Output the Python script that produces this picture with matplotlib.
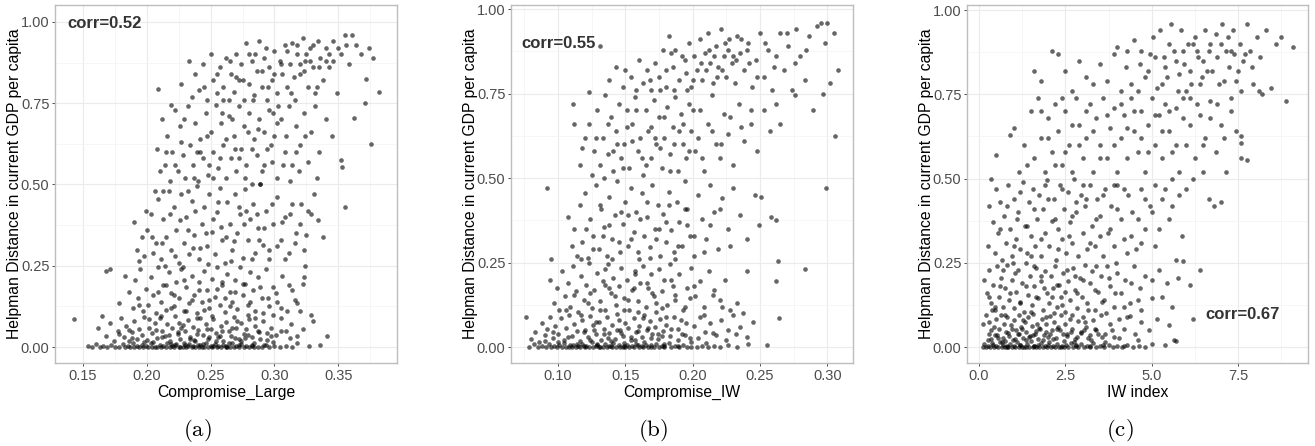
import numpy as np
import matplotlib.pyplot as plt
from matplotlib.ticker import MultipleLocator

# points: x in 1/1000, y in 1/1000
pts_a = [
    (154,3),(157,0),(160,8),(163,0),(166,2),(169,0),(172,5),(175,0),(178,1),(181,9),(183,0),(185,4),(187,0),(189,12),
    (190,0),(192,2),(194,0),(196,7),(197,0),(199,3),(201,0),(203,11),(204,0),(206,1),(208,0),(210,6),(211,0),(213,2),
    (215,0),(216,14),(218,0),(220,3),(221,0),(223,8),(225,0),(226,1),(228,0),(230,5),(231,0),(233,10),(235,0),(236,2),
    (238,0),(240,7),(241,0),(243,1),(245,0),(246,13),(248,0),(250,4),(251,0),(253,9),(255,0),(256,2),(258,0),(260,6),
    (262,0),(263,1),(265,0),(267,11),(268,0),(270,3),(272,0),(274,8),(276,0),(278,2),(280,0),(282,5),(284,0),(287,1),
    (290,0),(293,7),(296,0),(300,3),(304,0),(309,2),(314,0),(327,2),(336,6),
    (143,85),(162,60),(165,95),(168,35),(171,75),(174,20),(177,50),(180,90),(182,30),(184,65),(186,18),(188,45),(190,80),
    (192,25),(194,55),(196,38),(198,92),(200,22),(202,60),(204,42),(206,75),(208,28),(210,88),(212,50),(214,33),(216,70),
    (218,20),(220,58),(222,95),(224,40),(226,25),(228,68),(230,48),(232,82),(234,30),(236,62),(238,18),(240,52),(242,90),
    (244,36),(246,72),(248,24),(250,56),(252,85),(254,44),(256,30),(258,66),(260,20),(262,78),(264,48),(266,34),(268,92),
    (270,60),(272,26),(274,74),(276,40),(278,55),(280,85),(282,30),(285,64),(288,45),(291,80),(294,22),(297,58),(301,38),
    (305,90),(309,50),(313,70),(318,35),(322,55),(329,100),(330,80),(341,35),
    (168,235),(171,240),(178,135),(183,220),(186,170),(189,120),(191,205),(193,150),(195,240),(197,110),(199,180),
    (201,130),(203,215),(205,160),(207,105),(209,245),(211,140),(213,190),(215,115),(217,230),(219,165),(221,125),
    (223,200),(225,150),(227,240),(229,110),(231,185),(233,135),(235,220),(237,160),(239,105),(241,200),(243,140),
    (245,235),(247,175),(249,120),(251,210),(253,155),(255,245),(257,130),(259,190),(261,108),(263,225),(265,170),
    (267,140),(269,205),(271,118),(273,245),(275,160),(277,195),(279,128),(281,230),(283,175),(285,112),(287,215),
    (290,150),(293,240),(296,125),(299,185),(302,140),(306,220),(310,110),(314,175),(318,135),(322,195),(323,215),
    (190,385),(192,300),(194,265),(196,340),(198,280),(200,360),(203,410),(205,290),(207,320),(209,455),(211,270),
    (213,395),(215,340),(217,480),(219,300),(221,430),(223,360),(225,260),(227,470),(229,320),(231,400),(233,285),
    (235,450),(237,345),(239,495),(241,270),(243,380),(245,430),(247,310),(249,470),(251,355),(253,285),(255,415),
    (257,490),(259,330),(261,260),(263,445),(265,380),(267,300),(269,470),(271,350),(273,410),(275,275),(277,485),
    (279,330),(281,395),(283,440),(285,290),(287,365),(289,500),(291,315),(293,420),(296,270),(299,380),(302,460),
    (305,330),(308,400),(311,290),(314,440),(317,350),(320,380),(323,300),(326,420),(331,470),(334,390),(338,340),
    (355,430),
    (206,480),(208,610),(210,540),(212,700),(214,560),(216,650),(218,510),(220,600),(222,730),(224,540),(226,680),
    (228,590),(230,520),(232,740),(234,620),(236,560),(238,690),(240,510),(242,640),(244,580),(246,720),(248,530),
    (250,660),(252,600),(254,745),(256,550),(258,690),(260,620),(262,520),(264,710),(266,580),(268,650),(270,540),
    (272,740),(274,610),(276,680),(278,560),(280,720),(282,500),(284,640),(286,590),(288,700),(290,540),(292,660),
    (294,610),(296,730),(298,570),(300,650),(302,520),(305,700),(308,600),(311,740),(314,560),(317,680),(320,620),
    (323,720),(326,570),(329,660),(332,740),(335,600),(340,700),(345,650),(352,575),(353,555),(362,705),
    (209,795),(219,745),(227,810),(233,880),(235,770),(238,840),(241,790),(244,870),(247,760),(250,900),(252,820),
    (255,780),(257,860),(260,800),(262,890),(264,760),(266,840),(268,785),(270,900),(272,820),(274,870),(276,760),
    (278,935),(280,810),(282,880),(284,775),(286,850),(288,940),(290,800),(292,890),(294,760),(296,860),(298,820),
    (300,910),(302,780),(304,880),(306,840),(308,930),(310,800),(312,870),(314,935),(316,760),(318,900),(320,840),
    (322,950),(324,880),(326,800),(328,920),(330,860),(332,780),(334,940),(336,890),(338,820),(340,920),(343,860),
    (346,940),(349,780),(352,900),(355,960),(358,870),(361,960),(364,930),(368,900),(371,750),(372,825),(374,920),
    (377,890),(382,785),(376,625),
    # second pass over the denser parts of the cloud
    (205,15),(212,30),(219,8),(224,45),(229,12),(234,25),(239,40),(244,10),(249,32),(254,18),(259,48),(264,14),
    (269,28),(274,20),(279,38),(284,12),(289,26),(294,42),(299,16),(207,52),(217,38),(227,60),(237,22),(247,55),
    (257,35),(267,58),(277,28),(287,50),(297,35),(222,5),(232,3),(242,6),(252,4),(262,3),(272,6),(282,4),(292,5),
    (188,28),(198,15),(178,40),(186,52),(318,12),(312,28),(305,48),
    (211,95),(221,160),(231,110),(241,175),(251,95),(261,150),(271,80),(281,140),(291,105),(301,165),(215,190),
    (225,75),(235,145),(245,115),(255,180),(265,125),(275,195),(285,88),(295,150),(305,120),(209,170),(219,120),
    (229,205),(239,90),(249,145),(259,200),(269,170),(279,100),(289,185),(299,98),(202,85),(194,130),(311,190),
    (316,145),(320,110),
    (212,320),(222,280),(232,360),(242,305),(252,395),(262,340),(272,430),(282,270),(292,365),(302,310),(312,410),
    (218,410),(228,245),(238,420),(248,255),(258,370),(268,325),(278,420),(288,330),(298,440),(308,270),(226,390),
    (236,305),(246,350),(256,445),(266,265),(276,380),(286,410),(296,300),(306,385),(214,250),(204,340),(199,420),
    (316,320),(321,440),(324,250),(325,345),(329,410),
    (222,560),(232,480),(242,600),(252,520),(262,640),(272,580),(282,610),(292,560),(302,690),(312,510),(227,630),
    (237,520),(247,650),(257,580),(267,700),(277,520),(287,670),(297,620),(307,560),(317,600),(229,700),(239,600),
    (249,560),(259,720),(269,610),(279,660),(289,500),(299,720),(309,650),(319,540),(215,600),(213,480),(333,520),
    (324,650),
    (245,800),(255,840),(265,880),(275,820),(285,900),(295,800),(305,870),(315,830),(325,900),(335,860),(290,850),
    (300,840),(310,910),(320,870),(330,930),(340,880),(350,920),(283,760),(293,920),(303,740),(313,780),(323,850),
    (333,800),(343,900),(280,900),(270,830),(260,760),(318,930),(328,880),(346,880),(356,930),
]

pts_b = [
    (78,0),(82,8),(85,0),(88,3),(91,0),(93,10),(95,0),(97,2),(99,0),(101,6),(103,0),(104,12),(106,0),(108,1),(110,0),
    (111,7),(113,0),(115,3),(116,0),(118,9),(120,0),(121,2),(123,0),(125,14),(126,0),(128,4),(130,0),(131,1),(133,0),
    (135,8),(136,0),(138,2),(140,0),(141,11),(143,0),(145,5),(146,0),(148,1),(150,0),(151,7),(153,0),(155,3),(156,0),
    (158,10),(160,0),(162,2),(163,0),(165,6),(167,0),(169,1),(171,0),(173,9),(175,0),(177,3),(179,0),(182,12),(184,0),
    (187,2),(190,0),(193,6),(196,0),(199,1),(203,0),(207,4),(211,0),(216,2),(220,0),(226,5),(233,0),(241,9),(255,6),
    (76,90),(80,25),(83,45),(86,15),(88,70),(90,35),(92,55),(94,90),(96,28),(98,62),(100,40),(102,85),(104,22),(106,58),
    (108,95),(110,32),(112,68),(114,48),(116,18),(118,80),(120,52),(122,30),(124,92),(126,64),(128,38),(130,75),
    (132,20),(134,55),(136,88),(138,42),(140,66),(142,25),(144,98),(146,50),(148,34),(150,72),(152,58),(154,22),
    (156,86),(158,45),(160,62),(162,30),(164,94),(166,52),(168,76),(170,38),(172,60),(174,24),(176,84),(178,48),
    (180,66),(183,32),(186,90),(189,55),(192,40),(195,72),(198,28),(201,62),(205,88),(209,45),(213,70),(217,35),
    (221,80),(226,50),(230,95),(235,60),(240,30),(245,75),(264,85),
    (94,200),(95,260),(97,130),(99,175),(101,110),(103,225),(105,150),(107,190),(109,120),(111,240),(113,165),
    (115,105),(117,210),(119,140),(121,185),(123,250),(125,115),(127,170),(129,220),(131,135),(133,195),(135,110),
    (137,245),(139,160),(141,205),(143,125),(145,180),(147,235),(149,145),(151,200),(153,110),(155,170),(157,225),
    (159,135),(161,190),(163,240),(165,120),(167,175),(169,215),(171,150),(173,105),(175,230),(177,165),(179,200),
    (181,125),(183,245),(185,180),(187,140),(190,215),(193,110),(196,175),(199,235),(202,150),(205,195),(208,120),
    (212,225),(216,170),(220,140),(224,200),(228,110),(233,130),(237,100),(240,225),(262,195),(263,255),(283,230),
    (92,470),(107,385),(110,300),(112,350),(114,270),(116,420),(118,310),(120,455),(122,265),(124,380),(126,330),
    (128,480),(130,290),(132,410),(134,355),(136,270),(138,445),(140,320),(142,390),(144,490),(146,280),(148,365),
    (150,430),(152,300),(154,470),(156,340),(158,400),(160,260),(162,455),(164,330),(166,385),(168,295),(170,480),
    (172,350),(174,420),(176,270),(178,395),(180,310),(182,460),(184,345),(186,280),(188,430),(190,370),(192,300),
    (194,490),(196,410),(198,330),(201,270),(204,450),(207,380),(210,320),(213,480),(216,400),(219,290),(222,440),
    (226,350),(230,470),(235,390),(240,320),(246,450),(249,360),(251,445),(258,385),(262,375),(299,470),
    (111,720),(112,660),(116,540),(118,590),(120,620),(123,660),(125,510),(127,580),(129,700),(131,540),(133,620),
    (135,745),(137,570),(139,680),(141,520),(143,640),(145,720),(147,560),(149,600),(151,700),(153,530),(155,660),
    (157,740),(159,580),(161,620),(163,510),(165,700),(167,640),(169,560),(171,730),(173,600),(175,680),(177,530),
    (179,620),(181,710),(183,570),(185,650),(187,740),(189,520),(191,690),(193,600),(195,560),(197,720),(199,640),
    (202,580),(205,700),(208,520),(211,660),(214,745),(217,600),(220,560),(223,690),(226,630),(230,540),(234,720),
    (238,610),(243,660),(248,580),(253,700),(257,640),(262,720),(265,660),(276,745),(306,625),
    (123,755),(131,890),(138,790),(143,830),(148,770),(150,820),(154,800),(158,760),(160,850),(163,780),(166,820),
    (169,760),(172,840),(175,800),(178,880),(180,770),(182,920),(185,830),(187,880),(190,790),(192,860),(195,810),
    (197,900),(199,770),(201,860),(203,820),(205,910),(207,790),(209,870),(211,930),(213,840),(215,780),(217,890),
    (219,830),(221,940),(223,860),(225,800),(227,910),(229,840),(231,780),(233,920),(235,870),(238,820),(241,900),
    (244,770),(247,850),(250,930),(253,800),(256,880),(259,760),(262,860),(265,930),(268,820),(271,890),(274,760),
    (277,940),(280,860),(283,790),(286,920),(289,700),(292,950),(295,960),(298,900),(300,960),(302,780),(305,930),
    (308,820),(297,750),
    # second pass over the denser parts of the cloud
    (100,15),(107,30),(114,10),(119,45),(124,22),(129,8),(134,38),(139,18),(144,52),(149,12),(154,30),(159,48),
    (164,14),(169,26),(174,40),(179,10),(184,55),(189,20),(194,35),(199,15),(204,28),(210,12),(215,42),(109,5),
    (119,3),(129,6),(139,4),(149,3),(159,6),(169,5),(179,4),(189,3),(127,50),(137,28),(147,42),(157,20),(167,56),
    (177,32),(96,45),(90,18),(225,20),(232,38),
    (117,95),(124,160),(131,110),(138,175),(145,80),(152,140),(159,105),(166,190),(173,130),(180,88),(187,155),
    (194,120),(201,180),(208,95),(122,130),(128,75),(135,185),(142,150),(149,110),(156,175),(163,85),(170,160),
    (177,115),(184,198),(191,80),(198,145),(112,155),(106,110),(215,155),(222,120),
    (126,290),(133,330),(140,260),(147,400),(154,320),(161,380),(168,265),(175,350),(182,420),(189,300),(196,360),
    (131,420),(138,360),(145,310),(152,390),(159,280),(166,430),(173,320),(180,370),(187,260),(194,410),(201,330),
    (208,280),(121,350),(117,260),(213,360),(220,410),(228,300),(135,230),(157,215),
    (134,500),(141,580),(148,530),(155,610),(162,560),(169,650),(176,590),(183,520),(190,640),(197,580),(204,620),
    (137,660),(144,600),(151,650),(158,700),(165,540),(172,620),(179,680),(186,600),(193,660),(200,700),(207,560),
    (214,640),(221,600),(128,620),(228,680),(236,650),(243,700),
    (180,820),(186,760),(194,850),(200,790),(206,840),(212,880),(218,800),(224,900),(230,860),(236,910),(242,840),
    (248,800),(184,870),(196,760),(210,820),(216,860),(222,820),(226,880),(232,850),(240,880),(254,900),(260,830),
    (168,790),(176,760),(270,930),(276,840),(284,880),
]

# x in 1/100, y in 1/1000
pts_c = [
    (10,0),(15,8),(20,0),(26,4),(32,0),(38,12),(44,0),(50,2),(55,0),(60,16),(65,0),(70,6),(75,0),(80,1),(85,0),(90,10),
    (95,0),(100,3),(105,0),(110,14),(115,0),(120,5),(125,0),(130,1),(135,0),(140,9),(145,0),(150,18),(155,0),(160,3),
    (165,0),(170,7),(175,0),(180,12),(185,0),(190,2),(196,0),(202,15),(208,0),(214,4),(220,0),(226,10),(232,0),(238,1),
    (245,0),(252,6),(259,0),(266,13),(273,0),(280,3),(288,0),(296,8),(304,0),(312,2),(320,0),(330,11),(340,0),(350,4),
    (362,0),(375,7),(388,0),(400,2),(415,0),(430,5),(445,0),(462,3),(480,0),(540,5),(565,20),(570,18),
    (12,70),(20,95),(28,40),(30,75),(35,25),(42,60),(48,85),(52,35),(58,55),(63,95),(68,28),(72,70),(78,45),(82,90),
    (88,32),(92,65),(97,22),(102,80),(107,50),(112,38),(117,95),(122,60),(127,26),(132,75),(137,45),(142,88),(147,34),
    (152,62),(157,98),(162,40),(167,70),(172,24),(177,55),(182,85),(188,36),(194,68),(200,30),(206,92),(212,50),
    (218,75),(224,28),(230,60),(236,95),(242,40),(248,70),(255,32),(262,85),(270,55),(278,25),(286,78),(294,45),
    (302,90),(310,60),(320,35),(330,80),(340,50),(352,95),(365,40),(378,70),(392,30),(406,85),(420,55),(436,92),
    (452,40),(470,75),(492,50),(515,85),(550,65),(620,85),
    (15,200),(22,160),(28,230),(34,130),(40,185),(46,110),(52,240),(58,150),(64,205),(70,120),(76,175),(82,245),
    (88,140),(94,200),(100,115),(106,165),(112,230),(118,135),(124,190),(130,105),(136,250),(142,155),(148,210),
    (154,125),(160,180),(166,235),(172,145),(178,195),(184,110),(190,225),(196,160),(202,130),(208,210),(214,175),
    (220,240),(226,120),(232,185),(238,150),(244,220),(250,105),(257,195),(264,140),(271,235),(278,170),(285,115),
    (292,205),(299,150),(306,245),(313,130),(320,190),(328,225),(336,110),(344,165),(352,210),(361,140),(370,240),
    (380,180),(390,120),(400,220),(412,160),(424,200),(436,130),(450,240),(466,175),(482,210),(500,145),(520,230),
    (545,190),(575,205),(610,185),(640,230),(590,255),
    (25,300),(30,420),(35,500),(40,370),(45,280),(50,470),(55,340),(60,430),(66,260),(72,390),(78,310),(84,480),
    (90,350),(96,270),(102,440),(108,320),(114,400),(120,290),(126,490),(132,360),(138,280),(144,430),(150,330),
    (156,470),(162,300),(168,380),(174,450),(180,270),(186,410),(192,340),(198,495),(204,300),(210,375),(216,440),
    (222,260),(228,350),(234,480),(240,320),(246,410),(252,280),(258,460),(264,370),(270,310),(276,500),(282,400),
    (288,270),(294,450),(300,340),(307,420),(314,290),(321,480),(328,360),(335,300),(342,440),(350,390),(358,270),
    (366,470),(374,340),(382,420),(390,300),(400,480),(410,380),(420,320),(432,450),(444,400),(456,290),(468,470),
    (480,350),(494,420),(510,300),(530,440),(550,380),(570,260),(588,330),
    (50,570),(90,630),(100,650),(115,520),(130,600),(140,540),(150,700),(160,560),(170,740),(180,620),(190,520),
    (200,680),(210,580),(220,720),(230,640),(240,540),(250,700),(260,600),(270,520),(280,740),(290,660),(300,560),
    (310,620),(320,720),(330,520),(340,680),(350,600),(360,740),(370,560),(380,650),(390,710),(400,520),(410,620),
    (420,690),(430,560),(440,740),(450,640),(460,580),(470,700),(480,520),(490,660),(500,740),(510,600),(520,690),
    (530,560),(540,720),(550,640),(560,580),(570,710),(580,520),(590,680),(600,600),(612,740),(625,560),(640,690),
    (655,620),(670,730),(685,580),(700,660),(715,520),(730,700),(745,640),(760,560),(776,555),(760,605),(680,420),
    (700,430),(665,440),
    (160,820),(180,790),(210,880),(230,870),(250,820),(270,760),(290,850),(310,800),(330,780),(350,840),(370,790),
    (390,870),(400,890),(410,760),(425,830),(440,780),(450,910),(465,840),(480,800),(495,870),(505,920),(515,770),
    (525,940),(535,860),(545,800),(555,960),(565,880),(575,760),(585,940),(595,840),(605,900),(615,780),(625,920),
    (635,860),(645,800),(655,940),(665,880),(675,820),(685,930),(695,780),(705,960),(715,880),(725,830),(735,940),
    (745,790),(755,900),(765,850),(775,960),(785,880),(795,780),(805,920),(815,860),(830,940),(845,770),(860,900),
    (875,920),(890,730),(910,890),(820,750),(760,625),
    # second pass over the denser parts of the cloud
    (25,20),(45,35),(65,15),(85,42),(105,25),(125,55),(145,30),(165,48),(185,20),(205,38),(225,55),(245,18),(265,45),
    (285,30),(305,52),(325,22),(345,40),(365,15),(385,50),(405,28),(35,50),(55,28),(75,18),(95,55),(115,40),(135,20),
    (155,35),(175,58),(195,45),(215,25),(235,50),(255,40),(275,15),(295,42),(315,28),(335,55),(355,30),(40,5),(80,4),
    (120,6),(160,3),(200,5),(240,4),(280,6),(320,3),(360,5),(420,4),(460,22),(500,10),
    (30,150),(45,120),(60,180),(75,95),(90,160),(105,220),(120,130),(135,180),(150,105),(165,150),(180,210),(195,90),
    (210,150),(225,185),(240,125),(255,230),(270,95),(285,160),(300,200),(315,110),(335,170),(355,135),(375,205),
    (395,160),(420,120),(440,190),(460,140),(38,110),(68,230),(98,250),(128,80),(158,240),(188,175),(218,100),
    (248,165),(278,210),(308,75),(338,240),(368,100),(398,250),(430,90),(470,110),(500,200),(530,150),(560,120),
    (60,350),(80,420),(100,300),(120,460),(140,360),(160,410),(180,320),(200,440),(220,380),(240,470),(260,330),
    (280,430),(300,480),(320,310),(340,380),(360,450),(380,350),(400,410),(420,470),(440,330),(460,380),(480,440),
    (500,400),(520,350),(540,470),(560,420),(110,380),(150,270),(190,480),(230,290),(270,390),(310,440),(350,330),
    (390,480),(430,280),(470,310),(510,480),(580,450),
    (250,580),(270,660),(290,600),(310,700),(330,640),(350,560),(370,690),(390,600),(410,720),(430,650),(450,700),
    (470,620),(490,580),(510,690),(530,640),(550,700),(570,600),(590,740),(610,660),(630,720),(650,600),(670,680),
    (690,720),(710,620),(730,740),(200,620),(220,540),(180,700),(240,740),(650,520),(620,500),(600,470),(560,500),
    (470,880),(490,820),(510,860),(530,780),(550,900),(570,850),(590,880),(610,820),(630,880),(650,850),(670,900),
    (690,860),(710,790),(730,880),(750,820),(770,870),(790,830),(810,760),(620,900),(640,780),(660,820),(600,760),
    (580,810),(700,900),(720,920),(740,870),(540,830),(460,760),(430,880),(760,760),
]

x_a = np.array([p[0] for p in pts_a]) / 1000
y_a = np.array([p[1] for p in pts_a]) / 1000
x_b = np.array([p[0] for p in pts_b]) / 1000
y_b = np.array([p[1] for p in pts_b]) / 1000
x_c = np.array([p[0] for p in pts_c]) / 100
y_c = np.array([p[1] for p in pts_c]) / 1000

x_titles = ['Compromise_Large', 'Compromise_IW', 'IW index']
corr_texts = ['corr=0.52', 'corr=0.55', 'corr=0.67']
sub_labels = ['(a)', '(b)', '(c)']
y_title = 'Helpman Distance in current GDP per capita'
y_ticks = [0, 0.25, 0.5, 0.75, 1.0]
y_ticklabels = ['0.00', '0.25', '0.50', '0.75', '1.00']

plt.rcParams['font.family'] = ['Liberation Sans', 'DejaVu Sans']

W, H = 1315, 446
fig = plt.figure(figsize=(W / 100, H / 100), dpi=100)

def px_axes(left, right, top, bottom):
    return fig.add_axes([left / W, 1 - bottom / H, (right - left) / W, (bottom - top) / H])

panels = [
    dict(box=(55, 397, 5, 363), x=x_a, y=y_a, xlim=(0.128, 0.396), ylim=(-0.049, 1.052),
         xt=[0.15, 0.20, 0.25, 0.30, 0.35], xtl=['0.15', '0.20', '0.25', '0.30', '0.35'], minor=0.025,
         corr=(0.138, 0.996, 'left'), ylab_x=15, sub_x=197),
    dict(box=(511, 853, 5, 363), x=x_b, y=y_b, xlim=(0.065, 0.319), ylim=(-0.047, 1.012),
         xt=[0.10, 0.15, 0.20, 0.25, 0.30], xtl=['0.10', '0.15', '0.20', '0.25', '0.30'], minor=0.025,
         corr=(0.0727, 0.898, 'left'), ylab_x=470, sub_x=653),
    dict(box=(967, 1308, 5, 363), x=x_c, y=y_c, xlim=(-0.35, 9.53), ylim=(-0.047, 1.015),
         xt=[0.0, 2.5, 5.0, 7.5], xtl=['0.0', '2.5', '5.0', '7.5'], minor=1.25,
         corr=(6.55, 0.097, 'left'), ylab_x=927, sub_x=1120),
]

for i, p in enumerate(panels):
    ax = px_axes(*p['box'])
    ax.set_axisbelow(True)
    ax.scatter(p['x'], p['y'], s=11, color='black', alpha=0.6, linewidths=0, zorder=3)
    ax.set_xlim(*p['xlim'])
    ax.set_ylim(*p['ylim'])
    ax.set_xticks(p['xt'])
    ax.set_xticklabels(p['xtl'])
    ax.set_yticks(y_ticks)
    ax.set_yticklabels(y_ticklabels)
    ax.xaxis.set_minor_locator(MultipleLocator(p['minor']))
    ax.yaxis.set_minor_locator(MultipleLocator(0.125))
    ax.grid(which='major', color='#EBEBEB', linewidth=0.8)
    ax.grid(which='minor', color='#F3F3F3', linewidth=0.5)
    ax.tick_params(which='major', length=2.5, width=0.6, color='#333333', pad=1.5,
                   labelsize=10.5, labelcolor='#4D4D4D')
    ax.tick_params(which='minor', length=0)
    for sp in ax.spines.values():
        sp.set_color('#BDBDBD')
        sp.set_linewidth(1.0)
    ax.set_xlabel(x_titles[i], fontsize=11.3, labelpad=2)
    cx, cy, ha = p['corr']
    ax.text(cx, cy, corr_texts[i], ha=ha, va='center', fontsize=12, fontweight='bold', color='#333333')
    fig.text(p['ylab_x'] / W, 1 - 184 / H, y_title, rotation=90, ha='center', va='center', fontsize=11.3)
    fig.text(p['sub_x'] / W, 1 - 430 / H, r'$\mathrm{' + sub_labels[i] + '}$', ha='center', va='center',
             fontsize=16.5, math_fontfamily='cm')

fig.savefig('out.png', dpi=100)
